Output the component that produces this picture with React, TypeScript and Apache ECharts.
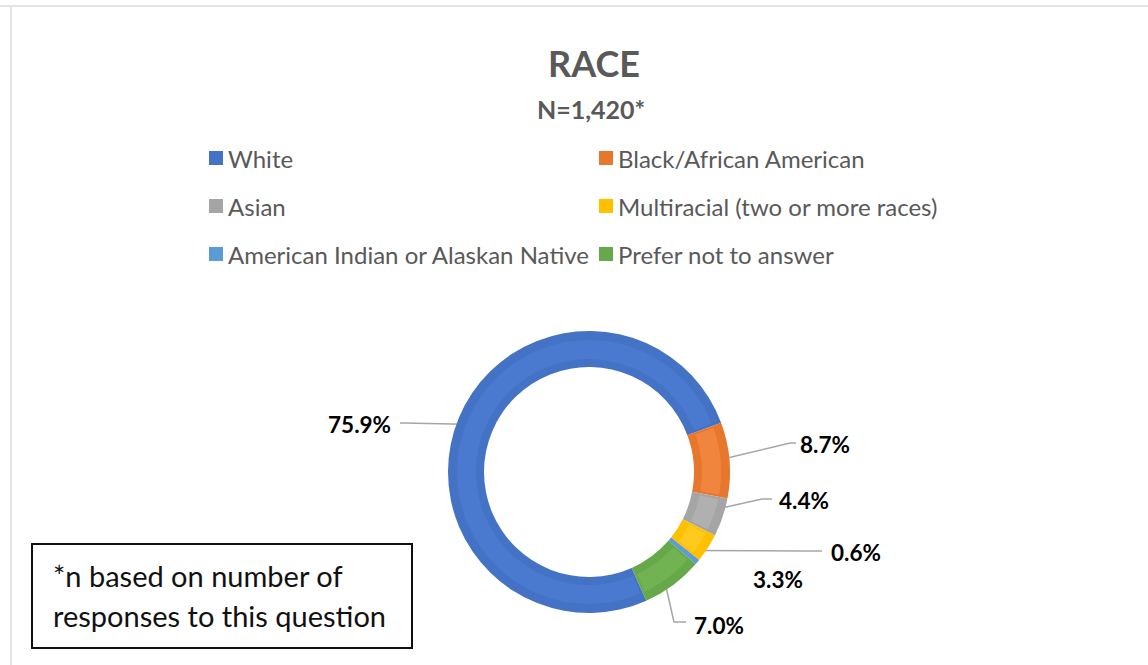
import React, { useEffect, useRef } from "react";
import * as echarts from "echarts";

const categories = [
  "White",
  "Black/African American",
  "Asian",
  "Multiracial (two or more races)",
  "American Indian or Alaskan Native",
  "Prefer not to answer",
];
const percentages = [75.9, 8.7, 4.4, 3.3, 0.6, 7.0];
const colors = ["#4472C4", "#E8772E", "#A5A5A5", "#FFC000", "#5B9BD5", "#67A84A"];
const innerColors = ["#4A7AD0", "#F0853D", "#B0B0B0", "#FFC91E", "#66A5DE", "#71B352"];
const legendCol1 = [categories[0], categories[2], categories[4]];
const legendCol2 = [categories[1], categories[3], categories[5]];

const titleText = "RACE";
const subtitleText = "N=1,420*";
const noteLines = ["*n based on number of", "responses to this question"];

// layout
const CX = 589;
const CY = 472;
const R_IN = 105;
const R_OUT = 141;
const START_CW = 156; // degrees clockwise from 12 o'clock
// label anchor (x, y, align) and elbow points of leader line
const labelLayoutCfg: any[] = [
  { x: 391, y: 424, align: "right", line: [[404, 423], [400, 423]] },
  { x: 800, y: 444, align: "left", line: [[790, 443], [796, 443]] },
  { x: 779, y: 500, align: "left", line: [[762, 499], [772, 499]] },
  { x: 753, y: 579, align: "left", line: null },
  { x: 831, y: 552, align: "left", line: [[800, 551], [822, 551]] },
  { x: 694, y: 625, align: "left", line: [[674, 622], [686, 622]] },
];

export default function App() {
  const ref = useRef<HTMLDivElement>(null);
  useEffect(() => {
    if (!ref.current) return;
    const chart = echarts.init(ref.current, null, { renderer: "svg" });
    const total = percentages.reduce((a, b) => a + b, 0);
    let acc = 0;
    const midAngles = percentages.map((v) => {
      const m = acc + v / 2;
      acc += v;
      return ((START_CW + (m / total) * 360) * Math.PI) / 180;
    });
    const rMid = (R_IN + R_OUT) / 2;
    const font = "Lato, 'Open Sans', sans-serif";
    const data = categories.map((name, i) => ({
      name,
      value: percentages[i],
      itemStyle: { color: colors[i] },
      labelLine: { show: labelLayoutCfg[i].line != null },
    }));
    const legendBase = {
      orient: "vertical",
      icon: "rect",
      itemWidth: 14,
      itemHeight: 14,
      itemGap: 24,
      selectedMode: false,
      textStyle: { fontFamily: font, fontSize: 24, color: "#595959", lineHeight: 24 },
    };
    chart.setOption({
      animation: false,
      backgroundColor: "#ffffff",
      title: [
        {
          text: titleText,
          left: 589,
          top: 38,
          textAlign: "center",
          textStyle: { fontFamily: font, fontSize: 36, fontWeight: "bold", color: "#595959", lineHeight: 40 },
        },
        {
          text: subtitleText,
          left: 586,
          top: 90,
          textAlign: "center",
          textStyle: { fontFamily: font, fontSize: 25, fontWeight: "bold", color: "#595959", lineHeight: 28 },
        },
      ],
      legend: [
        { ...legendBase, left: 204, top: 141, data: legendCol1 },
        { ...legendBase, left: 594, top: 141, data: legendCol2 },
      ],
      series: [
        {
          type: "pie",
          center: [CX, CY],
          radius: [R_IN, R_OUT],
          startAngle: 90 - START_CW,
          clockwise: true,
          avoidLabelOverlap: false,
          data,
          label: {
            show: true,
            position: "outside",
            formatter: (p: any) => p.value.toFixed(1) + "%",
            fontFamily: font,
            fontSize: 22.5,
            fontWeight: "bold",
            color: "#000000",
          },
          labelLine: { show: true, lineStyle: { color: "#A6A6A6", width: 1.5 } },
          labelLayout: (params: any) => {
            const i = params.dataIndex;
            const cfg = labelLayoutCfg[i];
            const a = midAngles[i];
            const start = [CX + rMid * Math.sin(a), CY - rMid * Math.cos(a)];
            const res: any = {
              x: cfg.x,
              y: cfg.y,
              align: cfg.align,
              verticalAlign: "middle",
            };
            if (cfg.line) res.labelLinePoints = [start, cfg.line[0], cfg.line[1]];
            return res;
          },
          emphasis: { disabled: true },
        },
        {
          type: "pie",
          center: [CX, CY],
          radius: [R_IN + 8, R_OUT - 9],
          startAngle: 90 - START_CW,
          clockwise: true,
          silent: true,
          padAngle: 2,
          label: { show: false },
          labelLine: { show: false },
          emphasis: { disabled: true },
          data: categories.map((name, i) => ({
            name,
            value: percentages[i],
            itemStyle: { color: innerColors[i] },
          })),
        },
      ],
      graphic: [
        {
          type: "line",
          shape: { x1: 0, y1: 6, x2: 1148, y2: 6 },
          style: { stroke: "#E4E4E4", lineWidth: 2 },
        },
        {
          type: "line",
          shape: { x1: 11, y1: 6, x2: 11, y2: 665 },
          style: { stroke: "#E4E4E4", lineWidth: 2 },
        },
        {
          type: "rect",
          shape: { x: 32, y: 544, width: 380, height: 104 },
          style: { fill: "#ffffff", stroke: "#111111", lineWidth: 2 },
        },
        {
          type: "text",
          x: 53,
          y: 575,
          style: { text: noteLines[0], font: `29px ${font}`, fill: "#111111", textVerticalAlign: "middle" },
        },
        {
          type: "text",
          x: 53,
          y: 615,
          style: { text: noteLines[1], font: `29px ${font}`, fill: "#111111", textVerticalAlign: "middle" },
        },
      ],
    });
    return () => chart.dispose();
  }, []);
  return (
    <div
      ref={ref}
      style={{ position: "fixed", left: 0, top: 0, width: 1148, height: 665, background: "#fff" }}
    />
  );
}
